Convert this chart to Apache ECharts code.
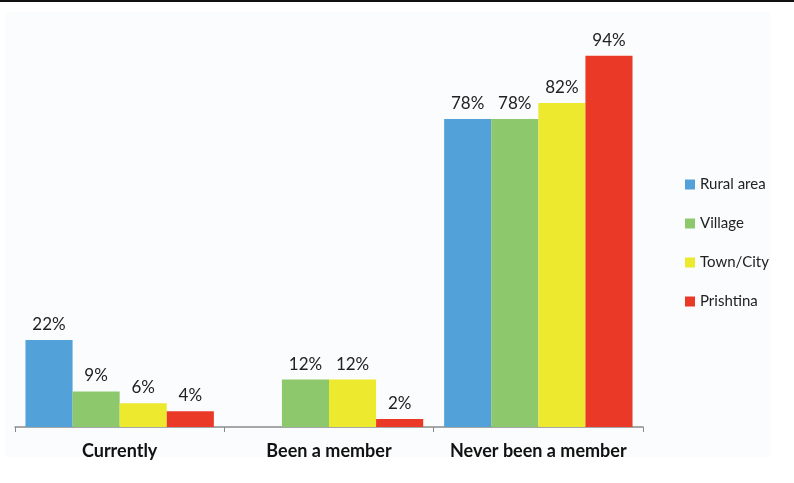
<!DOCTYPE html>
<html><head><meta charset="utf-8">
<script src="https://cdn.jsdelivr.net/npm/echarts@6/dist/echarts.min.js"></script>
<style>html,body{margin:0;padding:0;background:#fff}#c{width:794px;height:483px}</style>
</head><body><div id="c"></div>
<script>
const categories = ['Currently', 'Been a member', 'Never been a member'];
const seriesNames = ['Rural area', 'Village', 'Town/City', 'Prishtina'];
const ruralArea = [22, null, 78];
const village = [9, 12, 78];
const townCity = [6, 12, 82];
const prishtina = [4, 2, 94];
const colors = ['#52a2d9', '#8dc86d', '#ece92e', '#ea3a27'];

const values = [ruralArea, village, townCity, prishtina];
const chart = echarts.init(document.getElementById('c'));
chart.setOption({
  backgroundColor: '#ffffff',
  animation: false,
  textStyle: { fontFamily: 'Lato' },
  graphic: [
    { type: 'rect', shape: { x: 5, y: 12, width: 765, height: 445 }, style: { fill: '#fbfcfd' }, z: -10 },
    { type: 'rect', shape: { x: 0, y: 0, width: 794, height: 2 }, style: { fill: '#111' } }
  ],
  legend: {
    orient: 'vertical', left: 680, top: 172, itemGap: 24,
    itemWidth: 10, itemHeight: 10, icon: 'rect',
    textStyle: { fontSize: 15, color: '#222', fontFamily: 'Lato' },
    data: seriesNames
  },
  grid: { left: 15, right: 151, top: 32, bottom: 56 },
  xAxis: {
    type: 'category', data: categories,
    axisLine: { lineStyle: { color: '#8a8a8a', width: 1.5 } },
    axisTick: { show: true, length: 5, lineStyle: { color: '#8a8a8a' } },
    axisLabel: { interval: 0, hideOverlap: false, fontSize: 18, fontWeight: 'bold', color: '#111', margin: 15, fontFamily: 'Lato' }
  },
  yAxis: { type: 'value', min: 0, max: 100, show: false, splitLine: { show: false } },
  series: seriesNames.map((n, i) => ({
    name: n, type: 'bar', data: values[i],
    barGap: '0%', barCategoryGap: '10%',
    itemStyle: { color: colors[i] },
    label: { show: true, position: 'top', distance: 7, formatter: '{c}%', fontSize: 17, color: '#222', fontFamily: 'Lato' }
  }))
});
</script></body></html>
